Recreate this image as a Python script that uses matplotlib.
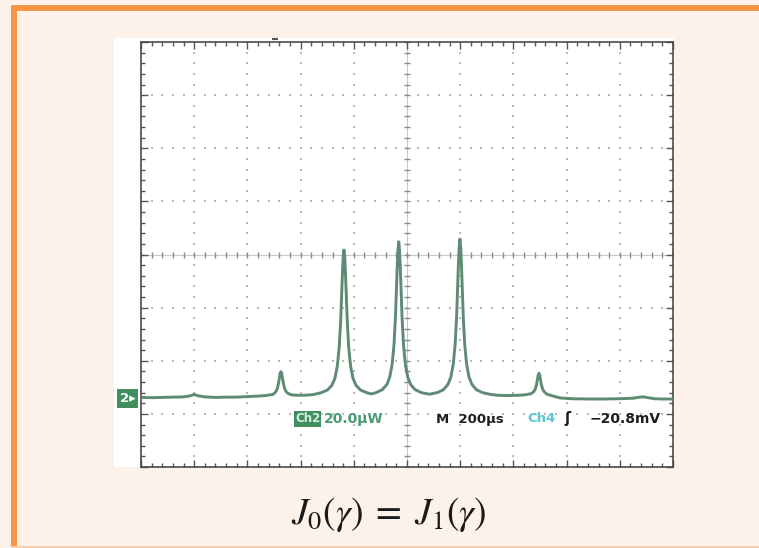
import matplotlib
matplotlib.use("Agg")
import matplotlib.pyplot as plt
from matplotlib.patches import Rectangle
import numpy as np

# Oscilloscope trace: time (µs) relative to screen centre, optical power (µW) above the Ch2 ground marker
time_us = [-1000, -960, -920, -880, -840, -815, -800, -785, -760, -720, -680, -640, -600, -560,
           -530, -520, -504, -494, -488, -483, -480, -477, -474, -471, -468, -465, -460, -454,
           -444, -430, -410, -390, -370, -350,
           -322, -299, -282, -271, -262, -255, -249.5, -243, -240, -237, -234, -231, -224.5,
           -219, -212, -203, -192, -175, -152, -134,
           -116, -93, -76, -65, -56, -49, -43.5, -37, -34, -31, -28, -25, -18.5, -13, -6, 3,
           14, 31, 54, 84,
           114, 137, 154, 165, 174, 181, 186.5, 193, 196, 199, 202, 205, 211.5, 217, 224, 233,
           244, 261, 284, 310, 340, 380, 420, 446, 466, 476, 482, 487, 490, 493, 496, 499, 502,
           505, 510, 516, 526, 546, 576, 620, 680, 740, 800, 850, 875, 887, 900, 930, 960, 1000]
power_uW = [0.2, 0.1, 0.2, 0.3, 0.4, 0.8, 1.3, 0.8, 0.4, 0.2, 0.3, 0.3, 0.5, 0.7,
            0.9, 1.1, 1.3, 2.2, 3.4, 5.5, 7.4, 9.2, 9.9, 9.2, 7.4, 5.6, 3.5, 2.3,
            1.5, 1.1, 1.0, 1.0, 1.1, 1.3,
            2.0, 3.0, 4.8, 7.4, 11.9, 18.9, 28.7, 46.0, 53.0, 55.7, 53.0, 46.0, 28.7,
            18.9, 11.9, 7.4, 4.8, 3.0, 2.0, 1.5,
            2.0, 3.1, 5.0, 7.8, 12.5, 19.9, 30.2, 48.6, 55.6, 58.8, 55.6, 48.6, 30.2, 19.9, 12.5, 7.8,
            5.0, 3.1, 2.0, 1.4,
            2.0, 3.1, 5.1, 7.9, 12.8, 20.2, 30.7, 49.4, 56.6, 59.8, 56.6, 49.4, 30.7, 20.2, 12.8, 7.9,
            5.1, 3.1, 2.0, 1.4, 1.0, 0.9, 1.0, 1.2, 1.6, 2.3, 3.3, 5.0, 6.8, 8.6, 9.3, 8.6, 6.8,
            5.0, 3.3, 2.3, 1.4, 0.8, 0.0, -0.3, -0.4, -0.4, -0.3, -0.1, 0.3, 0.4, 0.2, -0.3, -0.4, -0.4]

# Screen scale: 200 µs/div horizontally, 20 µW/div vertically, ground 2.7 div below centre
time_range = [-1000, 1000]
power_range = [-26, 134]
time_per_div = 200
power_per_div = 20
n_sub = 5

status_ch2 = "Ch2"
status_scale = "20.0µW"
status_time = "M  200µs"
status_ch4 = "Ch4"
status_trig = "−20.8mV"
caption = r"$J_0(\gamma)\;=\;J_1(\gamma)$"

W, H = 759, 548
plt.rcParams["mathtext.fontset"] = "stix"
fig = plt.figure(figsize=(W / 100, H / 100), dpi=100)
fig.patch.set_facecolor("#fdf2e9")


def fx(x):
    return x / W


def fy(y):
    return 1 - y / H


def add_rect(x0, y0, w, h, color):
    fig.patches.append(Rectangle((fx(x0), fy(y0 + h)), w / W, h / H,
                                 transform=fig.transFigure, facecolor=color,
                                 edgecolor="none", zorder=-10))


# Slide frame: orange rule on top and left, faint rule at the bottom
add_rect(11, 5, W, 6, "#f79646")
add_rect(11, 5, 6, H, "#f79646")
add_rect(11, 546, W, 2, "#f8cfae")
# White screenshot area
add_rect(114, 38, 560, 429, "white")

ax = fig.add_axes([fx(141), fy(467), 532 / W, 425 / H])
ax.set_zorder(1)
ax.set_facecolor("white")
ax.set_xlim(time_range)
ax.set_ylim(power_range)

t_major = np.arange(time_range[0], time_range[1] + 1, time_per_div)
p_major = np.arange(power_range[0], power_range[1] + 1, power_per_div)
t_minor = np.arange(time_range[0], time_range[1] + 1, time_per_div / n_sub)
p_minor = np.arange(power_range[0], power_range[1] + 0.01, power_per_div / n_sub)
t_mid = (time_range[0] + time_range[1]) / 2
p_mid = (power_range[0] + power_range[1]) / 2

ax.set_xticks(t_major)
ax.set_yticks(p_major)
ax.set_xticks(t_minor, minor=True)
ax.set_yticks(p_minor, minor=True)
ax.tick_params(which="both", direction="in", top=True, right=True,
               labelleft=False, labelbottom=False, color="#555555", width=1.0)
ax.tick_params(which="major", length=5)
ax.tick_params(which="minor", length=3)
for s in ax.spines.values():
    s.set_color("#4a4a4a")
    s.set_linewidth(1.2)

# Dotted graticule
dot_t, dot_p = [], []
for t in t_major[1:-1]:
    if t == t_mid:
        continue
    dot_t += [t] * len(p_minor)
    dot_p += list(p_minor)
for p in p_major[1:-1]:
    if p == p_mid:
        continue
    dot_t += list(t_minor)
    dot_p += [p] * len(t_minor)
ax.scatter(dot_t, dot_p, s=2.2, marker="s", color="#b8b8b8", linewidths=0, zorder=1)

# Centre cross with sub-division ticks
ax.plot(time_range, [p_mid, p_mid], color="#c8c8c8", lw=0.8, zorder=1)
ax.plot([t_mid, t_mid], power_range, color="#c8c8c8", lw=0.8, zorder=1)
ax.plot(t_minor, [p_mid] * len(t_minor), ls="none", marker="|", ms=5, mew=1.0,
        color="#8a8a8a", zorder=1)
ax.plot([t_mid] * len(p_minor), p_minor, ls="none", marker="_", ms=5, mew=1.0,
        color="#8a8a8a", zorder=1)

# Trace
ax.plot(time_us, power_uW, color="#5f8a74", lw=2.1, zorder=3, solid_joinstyle="round")

# Trigger position marker above the screen
ax.plot([-496], [power_range[1] + 1.2], marker="_", ms=5, mew=1.5, color="#555555",
        clip_on=False, zorder=4)

# Ch2 ground marker
fig.text(fx(120), fy(398.5), "2▸", color="white", fontsize=9.5, fontweight="bold",
         ha="left", va="center", family="DejaVu Sans", zorder=6,
         bbox=dict(boxstyle="square,pad=0.2", facecolor="#3f8f5f", edgecolor="none"))

# Status line
fs = 9.5
fig.text(fx(295), fy(419), status_ch2, color="#d8efe0", fontsize=8.5, fontweight="bold",
         ha="left", va="center", family="DejaVu Sans",
         bbox=dict(boxstyle="square,pad=0.1", facecolor="#3f8f5f", edgecolor="none"), zorder=6)
fig.text(fx(324), fy(419), status_scale, color="#4a9a78", fontsize=fs + 0.5, fontweight="bold",
         ha="left", va="center", family="DejaVu Sans", zorder=6)
fig.text(fx(436), fy(419), status_time, color="#1e1e1e", fontsize=fs, fontweight="bold",
         ha="left", va="center", family="DejaVu Sans", zorder=6)
fig.text(fx(527), fy(419), status_ch4, color="#5cc6d0", fontsize=fs, fontweight="bold",
         ha="left", va="center", family="DejaVu Sans", zorder=6)
fig.text(fx(564), fy(419), "ʃ", color="#1e1e1e", fontsize=fs + 1, fontweight="bold",
         ha="left", va="center", family="DejaVu Sans", zorder=6)
fig.text(fx(590), fy(419), status_trig, color="#1e1e1e", fontsize=fs + 0.5, fontweight="bold",
         ha="left", va="center", family="DejaVu Sans", zorder=6)

# Caption
fig.text(fx(389), fy(515), caption, color="#1a1a1a", fontsize=27, ha="center", va="center")

fig.savefig("out.png", dpi=100, facecolor=fig.get_facecolor())
